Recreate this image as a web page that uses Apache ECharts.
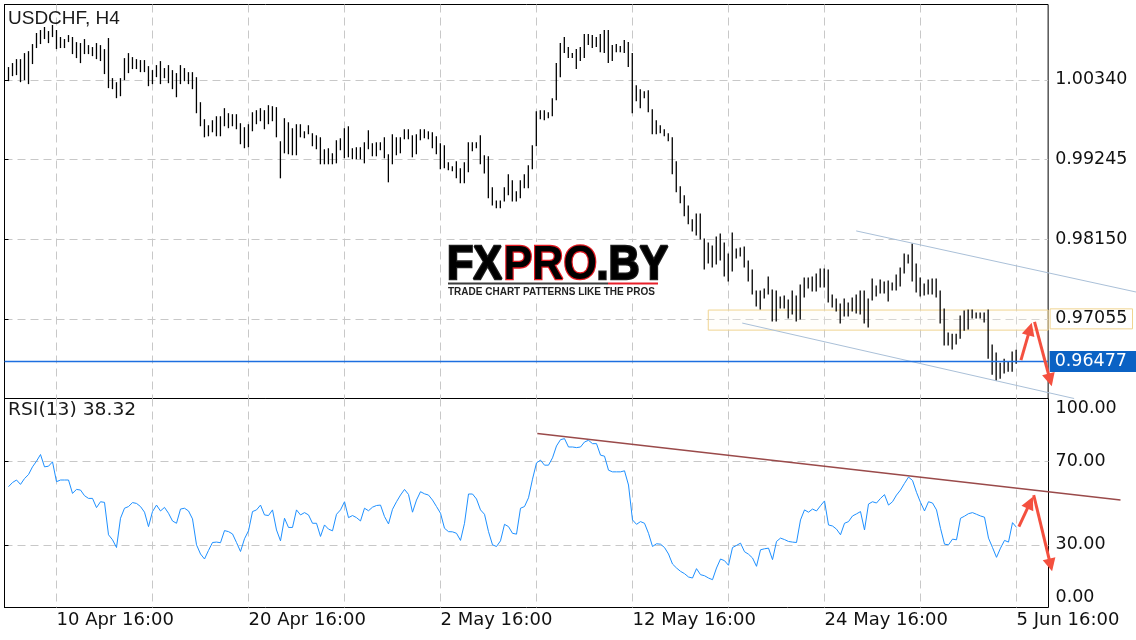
<!DOCTYPE html>
<html>
<head>
<meta charset="utf-8">
<script src="https://cdn.jsdelivr.net/npm/echarts@6/dist/echarts.min.js"></script>
<style>html,body{margin:0;padding:0;background:#fff;}#c{width:1136px;height:640px;}</style>
</head>
<body>
<div id="c"></div>
<script>
// ---- data (USDCHF H4 bars: high / low) ----
const high = [
1.00510,1.00565,1.00619,1.00619,1.00702,1.00729,1.00826,1.00978,1.01019,1.01061,
1.01005,1.01088,1.01019,1.00923,1.00895,1.00950,1.00923,1.00853,1.00840,1.00895,
1.00812,1.00785,1.00840,1.00812,1.00757,1.00909,1.00358,1.00302,1.00358,1.00633,
1.00702,1.00647,1.00619,1.00606,1.00606,1.00523,1.00468,1.00537,1.00592,1.00496,
1.00537,1.00468,1.00427,1.00537,1.00496,1.00440,1.00440,1.00371,1.00027,0.99793,
0.99710,0.99779,0.99834,0.99834,0.99945,0.99876,0.99862,0.99862,0.99738,0.99683,
0.99724,0.99889,0.99917,0.99945,0.99917,0.99986,0.99972,0.99959,0.99490,0.99807,
0.99751,0.99669,0.99724,0.99724,0.99627,0.99710,0.99600,0.99572,0.99545,0.99380,
0.99394,0.99325,0.99504,0.99531,0.99669,0.99696,0.99394,0.99408,0.99408,0.99476,
0.99641,0.99463,0.99476,0.99476,0.99545,0.99311,0.99586,0.99545,0.99545,0.99655,
0.99655,0.99572,0.99586,0.99655,0.99655,0.99627,0.99614,0.99558,0.99463,0.99435,
0.99200,0.99145,0.99214,0.99118,0.99200,0.99476,0.99476,0.99476,0.99572,0.99297,
0.99283,0.98856,0.98677,0.98677,0.98856,0.99035,0.98953,0.98801,0.98953,0.99035,
0.99159,0.99435,0.99903,0.99917,0.99917,0.99889,1.00082,1.00565,1.00840,1.00923,
1.00785,1.00702,1.00757,1.00785,1.00964,1.00964,1.00950,1.00923,1.00964,1.01019,
1.01019,1.00812,1.00826,1.00798,1.00881,1.00853,1.00702,1.00261,1.00206,1.00178,
1.00192,0.99931,0.99779,0.99710,0.99655,0.99600,0.99545,0.99214,0.98870,0.98746,
0.98608,0.98416,0.98498,0.98498,0.98154,0.98099,0.98058,0.98181,0.98223,0.98099,
0.97948,0.98237,0.98017,0.98030,0.98044,0.97851,0.97727,0.97438,0.97438,0.97465,
0.97630,0.97451,0.97438,0.97355,0.97369,0.97314,0.97438,0.97369,0.97520,0.97617,
0.97617,0.97630,0.97672,0.97741,0.97741,0.97727,0.97383,0.97328,0.97259,0.97328,
0.97272,0.97341,0.97383,0.97438,0.97438,0.97328,0.97603,0.97507,0.97589,0.97562,
0.97575,0.97548,0.97658,0.97755,0.97948,0.97934,0.98085,0.97810,0.97617,0.97534,
0.97589,0.97603,0.97603,0.97438,0.97190,0.96859,0.96845,0.96845,0.97093,0.97162,
0.97176,0.97176,0.97135,0.97135,0.97135,0.97176,0.96694,0.96584,0.96446,0.96501,
0.96460,0.96598,0.96625
];
const low = [
1.00330,1.00399,1.00413,1.00316,1.00344,1.00289,1.00565,1.00785,1.00840,1.00909,
1.00853,1.00936,1.00771,1.00785,1.00785,1.00867,1.00702,1.00647,1.00578,1.00702,
1.00702,1.00674,1.00633,1.00606,1.00427,1.00234,1.00220,1.00096,1.00123,1.00344,
1.00440,1.00496,1.00496,1.00454,1.00454,1.00261,1.00289,1.00385,1.00289,1.00371,
1.00302,1.00220,1.00109,1.00289,1.00330,1.00289,1.00220,0.99889,0.99710,0.99558,
0.99572,0.99627,0.99572,0.99572,0.99710,0.99683,0.99710,0.99669,0.99463,0.99408,
0.99421,0.99641,0.99738,0.99779,0.99669,0.99738,0.99779,0.99558,0.98994,0.99338,
0.99325,0.99311,0.99311,0.99558,0.99545,0.99600,0.99435,0.99394,0.99187,0.99187,
0.99187,0.99187,0.99200,0.99380,0.99269,0.99283,0.99256,0.99256,0.99256,0.99200,
0.99394,0.99297,0.99297,0.99380,0.99269,0.98939,0.99187,0.99311,0.99338,0.99531,
0.99531,0.99283,0.99325,0.99517,0.99545,0.99531,0.99408,0.99325,0.99118,0.99132,
0.99104,0.99090,0.98994,0.98925,0.98925,0.99076,0.99366,0.99408,0.99187,0.99062,
0.98719,0.98622,0.98581,0.98581,0.98677,0.98760,0.98677,0.98677,0.98719,0.98856,
0.98856,0.99118,0.99435,0.99807,0.99793,0.99821,0.99848,1.00069,1.00385,1.00716,
1.00647,1.00647,1.00496,1.00606,1.00647,1.00826,1.00785,1.00798,1.00729,1.00716,
1.00578,1.00606,1.00729,1.00729,1.00716,1.00523,0.99889,1.00055,0.99959,1.00096,
0.99903,0.99600,0.99600,0.99614,0.99572,0.99504,0.99049,0.98801,0.98650,0.98471,
0.98361,0.98264,0.98209,0.98154,0.97741,0.97824,0.97768,0.97810,0.97865,0.97644,
0.97575,0.97713,0.97892,0.97920,0.97768,0.97575,0.97396,0.97231,0.97190,0.97341,
0.97396,0.97024,0.97024,0.97203,0.97203,0.97066,0.97121,0.97024,0.97052,0.97355,
0.97479,0.97438,0.97438,0.97493,0.97493,0.97286,0.97217,0.97162,0.96997,0.97093,
0.97093,0.97162,0.97135,0.97121,0.96997,0.96942,0.97314,0.97369,0.97410,0.97410,
0.97300,0.97451,0.97451,0.97507,0.97686,0.97824,0.97575,0.97424,0.97369,0.97383,
0.97396,0.97396,0.97355,0.96997,0.96694,0.96694,0.96639,0.96708,0.96790,0.96900,
0.96914,0.97066,0.97066,0.97066,0.97011,0.96515,0.96295,0.96212,0.96240,0.96309,
0.96336,0.96336,0.96446
];
// ---- RSI(13) ----
const rsi = [
57.8,59.8,61.0,58.9,61.7,63.6,67.3,70.0,73.2,67.3,
67.6,69.7,60.2,61.0,61.0,61.0,54.6,56.5,56.2,53.5,
52.2,52.2,47.8,50.6,50.3,34.8,32.4,28.7,42.7,47.5,
48.3,50.2,49.8,48.3,45.6,38.7,45.9,49.0,46.2,47.9,
45.1,41.4,40.3,47.1,47.5,46.2,42.4,30.0,25.6,23.2,
27.3,31.1,31.3,31.0,36.8,36.3,35.2,31.1,26.8,32.9,
36.7,45.9,46.7,49.0,44.3,44.0,46.7,37.1,31.9,42.7,
38.3,38.3,46.7,44.3,45.4,44.3,40.3,40.3,34.0,39.5,
37.5,36.7,44.6,46.7,50.6,43.0,44.0,43.0,41.4,47.5,
46.3,48.0,48.8,49.0,43.5,40.0,47.0,50.6,53.8,56.5,
54.1,45.6,51.4,55.4,54.4,53.8,51.4,48.3,45.1,37.9,
36.3,36.2,35.5,32.1,40.3,54.3,54.3,51.9,46.7,44.6,
36.3,30.0,29.2,31.9,39.8,38.7,35.5,35.1,47.5,48.3,
52.5,61.4,69.2,70.5,68.1,68.1,71.6,77.3,80.3,80.8,
76.8,76.8,76.5,76.8,79.2,80.0,78.4,78.4,72.9,72.4,
65.7,64.9,64.9,64.9,65.4,58.6,41.9,39.8,41.1,40.3,
35.5,29.2,30.5,30.3,28.7,25.6,20.8,18.9,17.3,16.2,
14.6,14.1,18.6,15.7,15.2,14.1,13.3,18.9,23.2,22.4,
20.2,28.7,29.7,30.8,26.7,25.5,23.7,19.7,27.6,28.1,
28.4,22.9,31.6,33.2,32.5,31.6,31.3,31.1,41.9,46.7,
45.6,47.1,46.2,48.7,51.0,39.5,39.0,37.5,34.8,40.3,
41.1,43.8,44.8,45.9,37.1,49.5,50.6,50.0,52.2,54.0,
49.0,50.6,53.8,56.2,59.4,62.4,60.8,55.1,50.3,46.2,
50.6,50.0,46.7,37.9,30.3,30.0,32.7,32.4,42.7,43.7,
44.9,45.4,44.6,43.8,43.2,33.2,28.7,24.0,28.4,32.1,
31.3,40.6,38.32
];
// ---- axis ticks ----
const tickBars = [12, 60, 108, 156, 204, 252];
const tickLabels = ['10 Apr 16:00', '20 Apr 16:00', '2 May 16:00', '12 May 16:00', '24 May 16:00', '5 Jun 16:00'];
const gridStepBars = 24;
const emptyBarsRight = 8;
const priceMin = 0.95960, priceMax = 1.01377, priceStep = 0.01095;
const rsiTicks = [0, 30, 70, 100];
const lastPrice = 0.96477;
const rsiLast = 38.32;
// ---- annotations (bar index, value) ----
const channelLines = [[212, 0.98264, 282, 0.97424], [183.5, 0.96997, 266.5, 0.95960]];
const levelBox = { fromBar: 175, low: 0.96900, high: 0.97176, level: 0.97055 };
const priceArrows = [[253.2, 0.96487, 255.9, 0.97001], [256.6, 0.97015, 260.9, 0.96129]];
const rsiTrend = [[132.2, 83.2, 278, 51.4]];
const rsiArrows = [[252.6, 38.7, 256.1, 53.0], [256.3, 53.8, 260.9, 17.3]];

const FONT = 'DejaVu Sans';
const nSlots = 1 + high.length + emptyBarsRight;      // slot 0 is an empty lead-in
const cats = Array.from({ length: nSlots }, (_, j) => String(j));
const isGridSlot = j => j - 1 >= 0 && (j - 1 - tickBars[0]) % gridStepBars === 0;
const isLabelSlot = j => tickBars.indexOf(j - 1) >= 0;
const dash = { color: '#c8c8c8', type: [8, 5], width: 1 };
const shift = arr => arr.map(a => [a[0] + 1, a[1], a[2] + 1, a[3]]);

const chart = echarts.init(document.getElementById('c'));

function segRender(color, width) {
  return function (params, api) {
    const a = api.coord([api.value(0), api.value(1)]);
    const b = api.coord([api.value(2), api.value(3)]);
    return { type: 'line', shape: { x1: a[0], y1: a[1], x2: b[0], y2: b[1] },
             style: { stroke: color, lineWidth: width } };
  };
}
function arrowRender(color) {
  return function (params, api) {
    const a = api.coord([api.value(0), api.value(1)]);
    const b = api.coord([api.value(2), api.value(3)]);
    const dx = b[0] - a[0], dy = b[1] - a[1], len = Math.hypot(dx, dy);
    const ux = dx / len, uy = dy / len, hl = 13, hw = 6.5;
    const bx = b[0] - ux * hl, by = b[1] - uy * hl;
    return { type: 'group', children: [
      { type: 'line', shape: { x1: a[0], y1: a[1], x2: bx + ux * 2, y2: by + uy * 2 },
        style: { stroke: color, lineWidth: 3 } },
      { type: 'polygon', shape: { points: [[b[0], b[1]], [bx - uy * hw, by + ux * hw], [bx + uy * hw, by - ux * hw]] },
        style: { fill: color } }
    ] };
  };
}
function lastPriceRender(params, api) {
  const a = api.coord([api.value(0), api.value(1)]);
  const b = api.coord([api.value(2), api.value(1)]);
  const y = Math.round(a[1]) + 0.5;
  return { type: 'group', children: [
    { type: 'rect', shape: { x: a[0], y: y - 0.7, width: b[0] - a[0], height: 1.4 }, style: { fill: '#1d6fe0' } },
    { type: 'text', x: b[0] + 1.5, y: y, style: { text: api.value(1).toFixed(5), fill: '#fff', backgroundColor: '#0b62c4',
      padding: [2, 9, 1, 5], font: '17.5px "DejaVu Sans"', verticalAlign: 'middle', align: 'left' } }
  ] };
}

const catAxisBase = {
  type: 'category', data: cats, boundaryGap: false,
  axisLine: { show: false }, axisTick: { show: false },
  splitLine: { show: true, interval: (i) => isGridSlot(i), lineStyle: dash }
};

const logoFont = 'bold 49px "Liberation Sans"';
function grad(stops) {
  return { type: 'linear', x: 0, y: 0, x2: 0, y2: 1, colorStops: stops.map(s => ({ offset: s[0], color: s[1] })) };
}
function logoText(txt, x, solid, stops) {
  return [
    { type: 'text', x: x, y: 241, scaleX: 0.88, z: 4, silent: true, style: { text: txt, font: logoFont, verticalAlign: 'top', fill: solid, stroke: solid, lineWidth: 2.6 } },
    { type: 'text', x: x, y: 241, scaleX: 0.88, z: 5, silent: true, style: { text: txt, font: logoFont, verticalAlign: 'top', fill: grad(stops) } }
  ];
}

const option = {
  animation: false,
  backgroundColor: '#fff',
  grid: [
    { left: 4.5, right: 87.5, top: 4.5, height: 394, show: true, borderColor: '#000', borderWidth: 1, backgroundColor: 'transparent' },
    { left: 4.5, right: 87.5, top: 398.5, height: 209, show: true, borderColor: '#000', borderWidth: 1, backgroundColor: 'transparent' }
  ],
  xAxis: [
    Object.assign({}, catAxisBase, { gridIndex: 0, axisLabel: { show: false } }),
    Object.assign({}, catAxisBase, { gridIndex: 1, axisLabel: {
      show: true, interval: (i) => isLabelSlot(i), align: 'left', margin: 4,
      fontFamily: FONT, fontSize: 18, color: '#111',
      formatter: (v) => { const k = tickBars.indexOf(Number(v) - 1); return k >= 0 ? tickLabels[k] : ''; }
    } }),
    { type: 'value', gridIndex: 0, min: 0, max: nSlots - 1, show: false },
    { type: 'value', gridIndex: 1, min: 0, max: nSlots - 1, show: false }
  ],
  yAxis: [
    { type: 'value', gridIndex: 0, position: 'right', min: priceMin, max: priceMax, interval: priceStep,
      axisLine: { show: true, lineStyle: { color: '#000' } },
      axisTick: { show: true, length: 4, lineStyle: { color: '#000' } },
      splitLine: { show: true, showMinLine: false, showMaxLine: false, lineStyle: dash },
      axisLabel: { showMinLabel: false, showMaxLabel: false, margin: 2, fontFamily: FONT, fontSize: 17.5, color: '#111',
        formatter: (v) => { const s = v.toFixed(5); return Math.abs(v - levelBox.level) < 1e-6 ? '{hl|' + s + '}' : '{n|' + s + '}'; },
        rich: {
          n: { padding: [0, 0, 0, 5], fontFamily: FONT, fontSize: 17.5, color: '#111' },
          hl: { padding: [1, 5, 1, 5], lineHeight: 18, borderColor: '#f0d491', borderWidth: 1, fontFamily: FONT, fontSize: 17.5, color: '#111' }
        } } },
    { type: 'value', gridIndex: 1, position: 'right', min: 0, max: 100,
      axisLine: { show: true, lineStyle: { color: '#000' } },
      axisTick: { show: true, length: 4, customValues: rsiTicks, lineStyle: { color: '#000' } },
      splitLine: { show: true, showMinLine: false, showMaxLine: false, lineStyle: dash },
      axisLabel: { customValues: rsiTicks, margin: 2, fontFamily: FONT, fontSize: 17.5, color: '#111',
        formatter: (v) => { const s = v.toFixed(2); return v === 100 ? '{t|' + s + '}' : (v === 0 ? '{b|' + s + '}' : '{n|' + s + '}'); },
        rich: {
          n: { padding: [0, 0, 0, 5], fontFamily: FONT, fontSize: 17.5, color: '#111' },
          t: { padding: [20, 0, 0, 5], fontFamily: FONT, fontSize: 17.5, color: '#111' },
          b: { padding: [0, 0, 20, 5], fontFamily: FONT, fontSize: 17.5, color: '#111' }
        } } }
  ],
  graphic: [
    { type: 'rect', x: 446, y: 242, z: 3, silent: true, shape: { width: 236, height: 56 }, style: { fill: '#ffffff' } }
  ].concat(
    logoText('FX', 447, '#1e1e1e', [[0, '#2a2a2a'], [0.42, '#4a4a4a'], [0.5, '#8a8a8a'], [0.58, '#1c1c1c'], [1, '#050505']]),
    logoText('PRO', 503.5, '#e31b23', [[0, '#e31b23'], [0.5, '#e9262d'], [1, '#f39a9a']]),
    logoText('.BY', 596.5, '#1e1e1e', [[0, '#141414'], [0.5, '#2e2e2e'], [1, '#a0a0a0']]),
    [
      { type: 'line', z: 4, silent: true, shape: { x1: 448, y1: 283.5, x2: 608, y2: 283.5 }, style: { stroke: '#3b3b3b', lineWidth: 2 } },
      { type: 'line', z: 4, silent: true, shape: { x1: 608, y1: 283.5, x2: 658, y2: 283.5 }, style: { stroke: '#e8202a', lineWidth: 2 } },
      { type: 'text', x: 448, y: 287, z: 4, silent: true, style: { text: 'TRADE CHART PATTERNS LIKE THE PROS', font: 'bold 10px "Liberation Sans"', fill: '#222', verticalAlign: 'top' } },
      { type: 'text', x: 8, y: 9, z: 10, silent: true, style: { text: 'USDCHF, H4', font: '19px "Liberation Sans"', fill: '#1a1a1a', verticalAlign: 'top' } },
      { type: 'text', x: 8, y: 402, scaleX: 1.1, z: 10, silent: true, style: { text: 'RSI(13) ' + rsiLast.toFixed(2), font: '17px "DejaVu Sans"', fill: '#1a1a1a', verticalAlign: 'top' } }
    ]
  ),
  series: [
    { name: 'USDCHF', type: 'custom', xAxisIndex: 0, yAxisIndex: 0,
      data: high.map((h, i) => [i + 1, low[i], h]),
      encode: { x: 0, y: [1, 2] },
      renderItem: function (params, api) {
        const x = api.value(0);
        const p1 = api.coord([x, api.value(1)]);
        const p2 = api.coord([x, api.value(2)]);
        return { type: 'line', shape: { x1: p1[0], y1: p1[1] + 0.5, x2: p2[0], y2: p2[1] - 0.5 }, style: { stroke: '#000', lineWidth: 1.3 } };
      },
      markArea: { silent: true, itemStyle: { color: 'rgba(255,252,240,0.25)', borderColor: '#f0d491', borderWidth: 1 },
        data: [[{ xAxis: levelBox.fromBar + 1, yAxis: levelBox.high }, { xAxis: nSlots - 1, yAxis: levelBox.low }]] }
    },
    { name: 'lastPrice', type: 'custom', xAxisIndex: 2, yAxisIndex: 0, clip: false, silent: true, z: 4,
      data: [[0, lastPrice, nSlots - 1]], encode: { x: [0, 2], y: 1 }, renderItem: lastPriceRender },
    { name: 'channel', type: 'custom', xAxisIndex: 2, yAxisIndex: 0, clip: false, silent: true,
      data: shift(channelLines), encode: { x: [0, 2], y: [1, 3] }, renderItem: segRender('#aac0d8', 1) },
    { name: 'RSI(13)', type: 'line', xAxisIndex: 1, yAxisIndex: 1, symbol: 'none', silent: true,
      data: rsi.map((v, i) => [i + 1, v]), lineStyle: { color: '#1e90ff', width: 1 }, itemStyle: { color: '#1e90ff' } },
    { name: 'rsiTrend', type: 'custom', xAxisIndex: 3, yAxisIndex: 1, clip: false, silent: true,
      data: shift(rsiTrend), encode: { x: [0, 2], y: [1, 3] }, renderItem: segRender('#9a4a4a', 1.5) },
    { name: 'arrowsPrice', type: 'custom', xAxisIndex: 2, yAxisIndex: 0, clip: false, silent: true, z: 5,
      data: shift(priceArrows), encode: { x: [0, 2], y: [1, 3] }, renderItem: arrowRender('#f4503f') },
    { name: 'arrowsRsi', type: 'custom', xAxisIndex: 3, yAxisIndex: 1, clip: false, silent: true, z: 5,
      data: shift(rsiArrows), encode: { x: [0, 2], y: [1, 3] }, renderItem: arrowRender('#f4503f') }
  ]
};
chart.setOption(option);
</script>
</body>
</html>
